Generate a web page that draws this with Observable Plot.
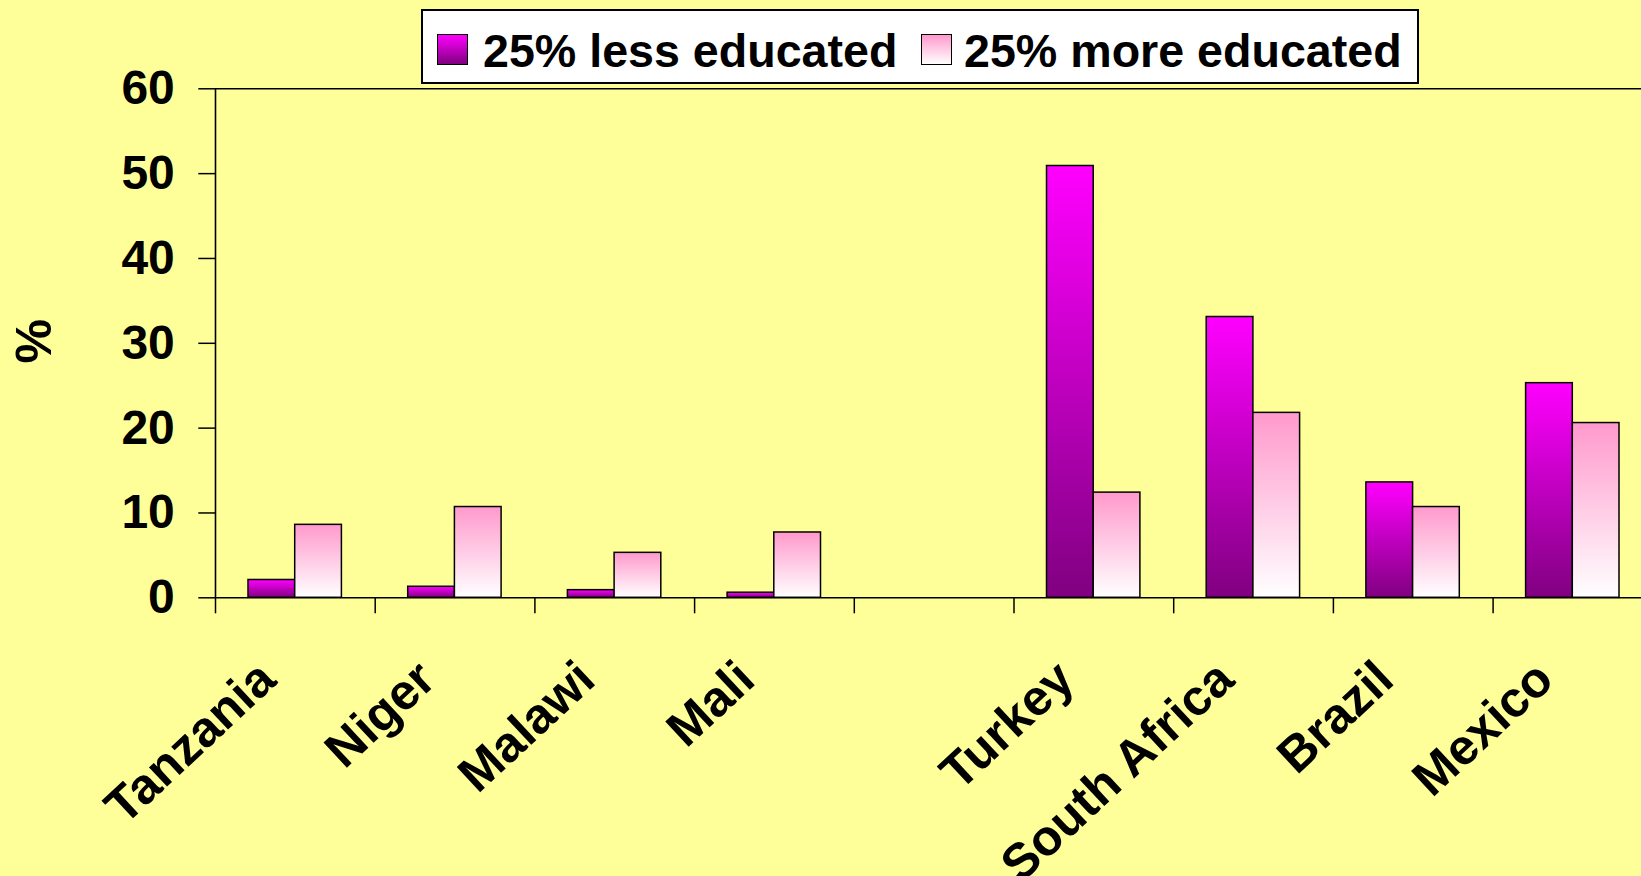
<!DOCTYPE html>
<html>
<head>
<meta charset="utf-8">
<script src="https://cdn.jsdelivr.net/npm/d3@7"></script>
<script src="https://cdn.jsdelivr.net/npm/@observablehq/plot@0.6"></script>
<style>
  html, body { margin: 0; padding: 0; background: #FFFF99; }
  #wrap { position: relative; width: 1641px; height: 876px; overflow: hidden; background: #FFFF99; }
  #legend { position: absolute; left: 421px; top: 9px; width: 994px; height: 71px; background: #fff; border: 2px solid #000; }
  .sw { position: absolute; top: 23px; width: 29px; height: 29px; border: 1.5px solid #000; }
  .lt { position: absolute; top: 17px; font: bold 46.6px "Liberation Sans", Arial, sans-serif; line-height: 46px; color: #000; white-space: nowrap; }
</style>
</head>
<body>
<div id="wrap"></div>
<script>
const categories = ["Tanzania", "Niger", "Malawi", "Mali", "", "Turkey", "South Africa", "Brazil", "Mexico"];
const lessEducated = [2.1, 1.3, 0.9, 0.6, null, 50.9, 33.1, 13.6, 25.3];
const moreEducated = [8.6, 10.7, 5.3, 7.7, null, 12.4, 21.8, 10.7, 20.6];
const seriesNames = ["25% less educated", "25% more educated"];
const yTicks = [0, 10, 20, 30, 40, 50, 60];
const yLabel = "%";

const rows = [];
categories.forEach((c, i) => {
  if (lessEducated[i] != null) rows.push({country: c, series: seriesNames[0], value: lessEducated[i]});
  if (moreEducated[i] != null) rows.push({country: c, series: seriesNames[1], value: moreEducated[i]});
});

const W = 1641, H = 876;
const mLeft = 215, bw = 159.7;
const mTop = 88.3, zeroY = 597.3;
const barW = 46.7, outer = 33;

const fontFamily = '"Liberation Sans", Arial, Helvetica, sans-serif';

const chart = Plot.plot({
  width: W,
  height: H,
  marginLeft: mLeft,
  marginRight: 0,
  marginTop: mTop,
  marginBottom: H - zeroY,
  style: {background: "#FFFF99", fontFamily, fontWeight: "bold", fontSize: "48px", color: "#000", overflow: "hidden"},
  x: {type: "band", domain: categories, range: [mLeft, mLeft + bw * categories.length], padding: 0, round: false, axis: null},
  y: {domain: [0, 60], axis: null},
  marks: [
    Plot.barY(rows.filter(d => d.series === seriesNames[0]), {
      x: "country", y: "value", fill: "url(#gLess)", stroke: "#000", strokeWidth: 1.5,
      insetLeft: outer, insetRight: bw - outer - barW
    }),
    Plot.barY(rows.filter(d => d.series === seriesNames[1]), {
      x: "country", y: "value", fill: "url(#gMore)", stroke: "#000", strokeWidth: 1.5,
      insetLeft: outer + barW, insetRight: bw - outer - 2 * barW
    }),
    Plot.ruleY([0, 60], {stroke: "#000", strokeWidth: 1.6}),
    Plot.ruleX([categories[0]], {dx: -bw / 2, y1: 0, y2: 60, stroke: "#000", strokeWidth: 1.6}),
    Plot.axisY({ticks: yTicks, tickSize: 16.7, tickPadding: 24, tickFormat: d => String(d),
      fontSize: 48, fontWeight: "bold", stroke: "#000", strokeWidth: 1.5, label: null}),
    Plot.axisX({tickSize: 16, tickFormat: () => "", dx: -bw / 2, stroke: "#000", strokeWidth: 1.5, label: null}),
    Plot.text(categories, {x: d => d, y: () => 0, text: d => d, dx: -17, dy: 85, rotate: -43,
      textAnchor: "end", lineAnchor: "bottom", fontSize: 50, fontWeight: "bold", fill: "#000"}),
    Plot.text([yLabel], {text: d => d, frameAnchor: "left", dx: 34 - mLeft, dy: 336 - (mTop + zeroY) / 2 + 27,
      rotate: -90, fontSize: 50, fontWeight: "bold", fill: "#000"})
  ]
});

const defs = d3.select(chart).insert("defs", ":first-child");
const g1 = defs.append("linearGradient").attr("id", "gLess").attr("x1", 0).attr("y1", 0).attr("x2", 0).attr("y2", 1);
g1.append("stop").attr("offset", "0%").attr("stop-color", "#FF00FF");
g1.append("stop").attr("offset", "100%").attr("stop-color", "#800080");
const g2 = defs.append("linearGradient").attr("id", "gMore").attr("x1", 0).attr("y1", 0).attr("x2", 0).attr("y2", 1);
g2.append("stop").attr("offset", "0%").attr("stop-color", "#FF99CC");
g2.append("stop").attr("offset", "100%").attr("stop-color", "#FFFFFF");

const wrap = document.getElementById("wrap");
wrap.appendChild(chart);

// Legend (HTML, overlaid above the plot area)
const legend = document.createElement("div");
legend.id = "legend";
const items = [
  {name: seriesNames[0], grad: "linear-gradient(#FF00FF, #800080)", sx: 14, tx: 60},
  {name: seriesNames[1], grad: "linear-gradient(#FF99CC, #FFFFFF)", sx: 498, tx: 541}
];
items.forEach(it => {
  const sw = document.createElement("div");
  sw.className = "sw";
  sw.style.left = it.sx + "px";
  sw.style.background = it.grad;
  legend.appendChild(sw);
  const t = document.createElement("div");
  t.className = "lt";
  t.style.left = it.tx + "px";
  t.textContent = it.name;
  legend.appendChild(t);
});
wrap.appendChild(legend);
</script>
</body>
</html>
